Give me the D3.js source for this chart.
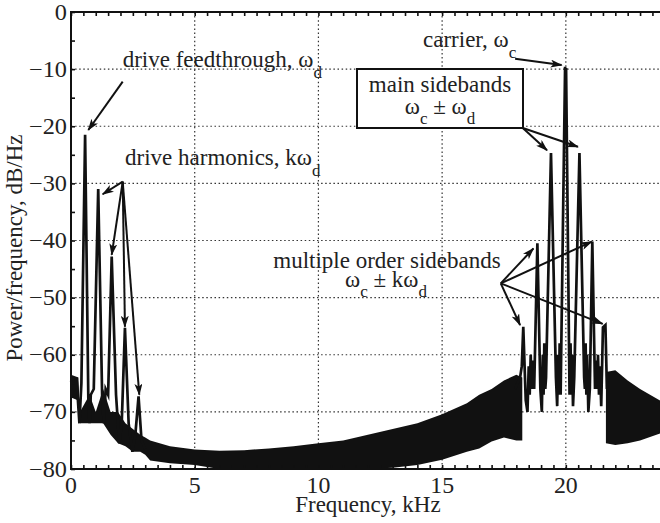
<!DOCTYPE html>
<html>
<head>
<meta charset="utf-8">
<script src="https://cdn.jsdelivr.net/npm/d3@7"></script>
<style>
  body { margin: 0; background: #fff; }
  text { font-family: "Liberation Serif", "Times New Roman", serif; fill: #222; }
</style>
</head>
<body>
<div id="chart"></div>
<script>
// spectrum (kHz, dB/Hz)
const leftFreq = [0, 0.12, 0.22, 0.34, 0.42, 0.57, 0.7, 0.75, 0.8, 0.92, 1.1, 1.26, 1.33, 1.4, 1.5, 1.645, 1.82, 1.95, 2.05, 2.18, 2.33, 2.48, 2.6, 2.73, 2.85, 3.0];
const leftDb   = [-64.5, -66, -64, -72, -65, -21.5, -67.5, -72, -67, -66, -31, -67.5, -72, -66, -67, -42.8, -67, -75.5, -72, -55.3, -72, -77, -74, -67.3, -75, -76.5];

const rightFreq = [17.95, 18.15, 18.22, 18.28, 18.38, 18.45, 18.5, 18.54, 18.58, 18.62, 18.68, 18.72,
  18.85, 18.97, 19.03, 19.07, 19.1, 19.13, 19.17, 19.2,
  19.4, 19.6, 19.65, 19.69, 19.72, 19.75, 19.79,
  19.97, 19.99, 20.01, 20.15, 20.19, 20.22, 20.25, 20.29, 20.34,
  20.55, 20.74, 20.77, 20.8, 20.83, 20.86, 20.91, 20.97,
  21.07, 21.18, 21.22, 21.26, 21.3, 21.34, 21.38, 21.43, 21.5, 21.6, 21.66, 21.72];
const rightDb   = [-66, -64, -62, -55.1, -68, -70, -62, -67, -60, -66, -61, -66,
  -40.5, -66, -70, -60, -67, -58, -66, -64,
  -24.7, -64, -69, -60, -67, -58, -67,
  -9.6, -14, -9.8, -67, -58, -67, -60, -69, -64,
  -24.7, -64, -66, -58, -67, -60, -70, -66,
  -40.2, -66, -61, -66, -60, -67, -62, -69, -55.2, -54.8, -66, -63];

// dense oscillation band (upper / lower envelope), null = no band under the cluster
const bandFreq = [0, 0.3, 0.36, 0.75, 1.0, 1.3, 1.6, 1.9, 2.2, 2.5, 2.8, 3.0, 3.2, 4, 5, 6, 7, 8, 9, 10, 11, 12, 13, 14, 15, 16, 16.5, 17, 17.5, 18, 18.24, 20, 21.62, 22, 22.5, 23, 24];
const bandHi   = [-63.5, -64, -70, -67, -70, -66, -70, -70, -72, -73, -74, -74.5, -75, -76, -76.6, -76.8, -76.7, -76.4, -76, -75.5, -75, -74, -73, -72, -70.4, -68.5, -67, -66, -64.5, -63.5, -64, null, -63, -62.7, -64.5, -66, -68.5];
const bandLo   = [-67.5, -68, -72, -72, -72, -72, -74, -75.5, -76, -77, -77, -77.5, -78.5, -79, -79.3, -80, -80, -80, -80, -80, -80, -80, -79.8, -79.3, -78.4, -77, -76.4, -75.2, -74.5, -75, -75, null, -75.5, -75.8, -75.5, -75, -73.5];

const xTicks = [0, 5, 10, 15, 20];
const yTicks = [0, -10, -20, -30, -40, -50, -60, -70, -80];

const width = 660, height = 523;
const x = d3.scaleLinear().domain([0, 24]).range([71, 664.8]);
const y = d3.scaleLinear().domain([-80, 0]).range([469, 12]);

const svg = d3.select("#chart").append("svg")
  .attr("width", width).attr("height", height);

svg.append("defs").append("marker")
  .attr("id", "arr").attr("viewBox", "0 0 12 8")
  .attr("refX", 11).attr("refY", 4)
  .attr("markerWidth", 12).attr("markerHeight", 8)
  .attr("markerUnits", "userSpaceOnUse")
  .attr("orient", "auto")
  .append("path").attr("d", "M0,0 L12,4 L0,8 L3,4 Z").attr("fill", "#111");

// grid
const grid = svg.append("g").attr("stroke", "#333").attr("stroke-width", 1.2)
  .attr("stroke-dasharray", "1.5,2.6");
grid.selectAll(".gx").data(xTicks.filter(d => d > 0)).enter().append("line")
  .attr("x1", d => x(d)).attr("x2", d => x(d)).attr("y1", y(0)).attr("y2", y(-80));
grid.selectAll(".gy").data(yTicks.filter(d => d > -80 && d < 0)).enter().append("line")
  .attr("y1", d => y(d)).attr("y2", d => y(d)).attr("x1", x(0)).attr("x2", x(24));

// band
const area = d3.area()
  .defined((d, i) => bandHi[i] !== null)
  .x((d, i) => x(bandFreq[i]))
  .y0((d, i) => y(bandLo[i]))
  .y1((d, i) => y(bandHi[i]));
svg.append("path").datum(bandFreq).attr("d", area).attr("fill", "#111");

// spectrum lines
const line = d3.line().x(d => x(d[0])).y(d => y(d[1]));
[[leftFreq, leftDb], [rightFreq, rightDb]].forEach(([fs, ds]) => {
  svg.append("path").datum(fs.map((f, i) => [f, ds[i]]))
    .attr("d", line).attr("fill", "none")
    .attr("stroke", "#111").attr("stroke-width", 2.7).attr("stroke-linejoin", "miter")
    .attr("stroke-miterlimit", 6);
});

// axes, ticks inward
function tickAxis(axis, scale, vals, size, tr) {
  const g = svg.append("g").attr("transform", tr)
    .call(axis(scale).tickValues(vals).tickSize(size).tickFormat(""));
  g.select(".domain").remove();
  g.selectAll("line").attr("stroke", "#111").attr("stroke-width", 1.6);
}
const xMinor = d3.range(0, 24.01, 0.5);
const yMinor = d3.range(-80, 0.01, 5);
tickAxis(d3.axisTop, x, xMinor, 4, `translate(0,${y(-80)})`);
tickAxis(d3.axisBottom, x, xMinor, 4, `translate(0,${y(0)})`);
tickAxis(d3.axisRight, y, yMinor, 4, `translate(${x(0)},0)`);
tickAxis(d3.axisLeft, y, yMinor, 4, `translate(${x(24)},0)`);

svg.append("rect")
  .attr("x", x(0)).attr("y", y(0))
  .attr("width", x(24) - x(0)).attr("height", y(-80) - y(0))
  .attr("fill", "none").attr("stroke", "#111").attr("stroke-width", 2);

function label(px, py, parts, anchor, size, sx) {
  const t = svg.append("text")
    .attr("transform", `translate(${px},${py}) scale(${sx || 1},1)`)
    .attr("font-size", size || 23).attr("text-anchor", anchor || "start");
  parts.forEach(p => {
    const s = t.append("tspan").text(p[0]);
    if (p[1]) s.attr("dy", p[1]);
    if (p[2]) s.attr("font-size", p[2]);
  });
  return t;
}

// tick labels
xTicks.forEach(d => label(x(d), y(-80) + 24, [[String(d)]], "middle", 22.5, 1.06));
yTicks.forEach(d => label(x(0) - 4, y(d) + 7.5,
  [[d === 0 ? "0" : "\u2212" + Math.abs(d)]], "end", 22.5, 1.08));

svg.append("text").attr("x", (x(0) + x(24)) / 2).attr("y", 512)
  .attr("text-anchor", "middle").attr("font-size", 23).text("Frequency, kHz");
svg.append("text").attr("transform", "translate(22,248) rotate(-90)")
  .attr("text-anchor", "middle").attr("font-size", 23).text("Power/frequency, dB/Hz");

// annotations
label(122.7, 66.7, [["drive feedthrough, \u03c9"], ["d", 11, 17]]);
label(125, 165, [["drive harmonics, k\u03c9"], ["d", 11, 17]]);
label(423, 47, [["carrier, \u03c9"], ["c", 11, 17]]);
svg.append("rect").attr("x", 357).attr("y", 69).attr("width", 166).attr("height", 59)
  .attr("fill", "#fff").attr("stroke", "#111").attr("stroke-width", 2);
label(440, 92, [["main sidebands"]], "middle");
label(440, 114, [["\u03c9"], ["c", 10, 17], [" \u00b1 \u03c9", -10], ["d", 10, 17]], "middle");
label(387, 268, [["multiple order sidebands"]], "middle");
label(386, 287, [["\u03c9"], ["c", 10, 17], [" \u00b1 k\u03c9", -10], ["d", 10, 17]], "middle");

const arrows = [
  [[2.09, -12.2], [0.70, -20.66]],
  [[2.09, -29.7], [1.28, -31.9]],
  [[2.09, -29.7], [1.645, -42.5]],
  [[2.09, -29.7], [2.18, -55.1]],
  [[2.09, -29.7], [2.76, -67.0]],
  [[17.95, -8.2], [19.83, -9.28]],
  [[18.26, -20.3], [19.24, -24.2]],
  [[18.26, -20.3], [20.49, -23.6]],
  [[17.37, -47.5], [18.69, -41.4]],
  [[17.37, -47.5], [21.05, -40.2]],
  [[17.37, -47.5], [18.15, -54.8]],
  [[17.37, -47.5], [21.49, -54.6]]
];
svg.selectAll(".arrow").data(arrows).enter().append("line")
  .attr("x1", d => x(d[0][0])).attr("y1", d => y(d[0][1]))
  .attr("x2", d => x(d[1][0])).attr("y2", d => y(d[1][1]))
  .attr("stroke", "#111").attr("stroke-width", 2)
  .attr("marker-end", "url(#arr)");
</script>
</body>
</html>
